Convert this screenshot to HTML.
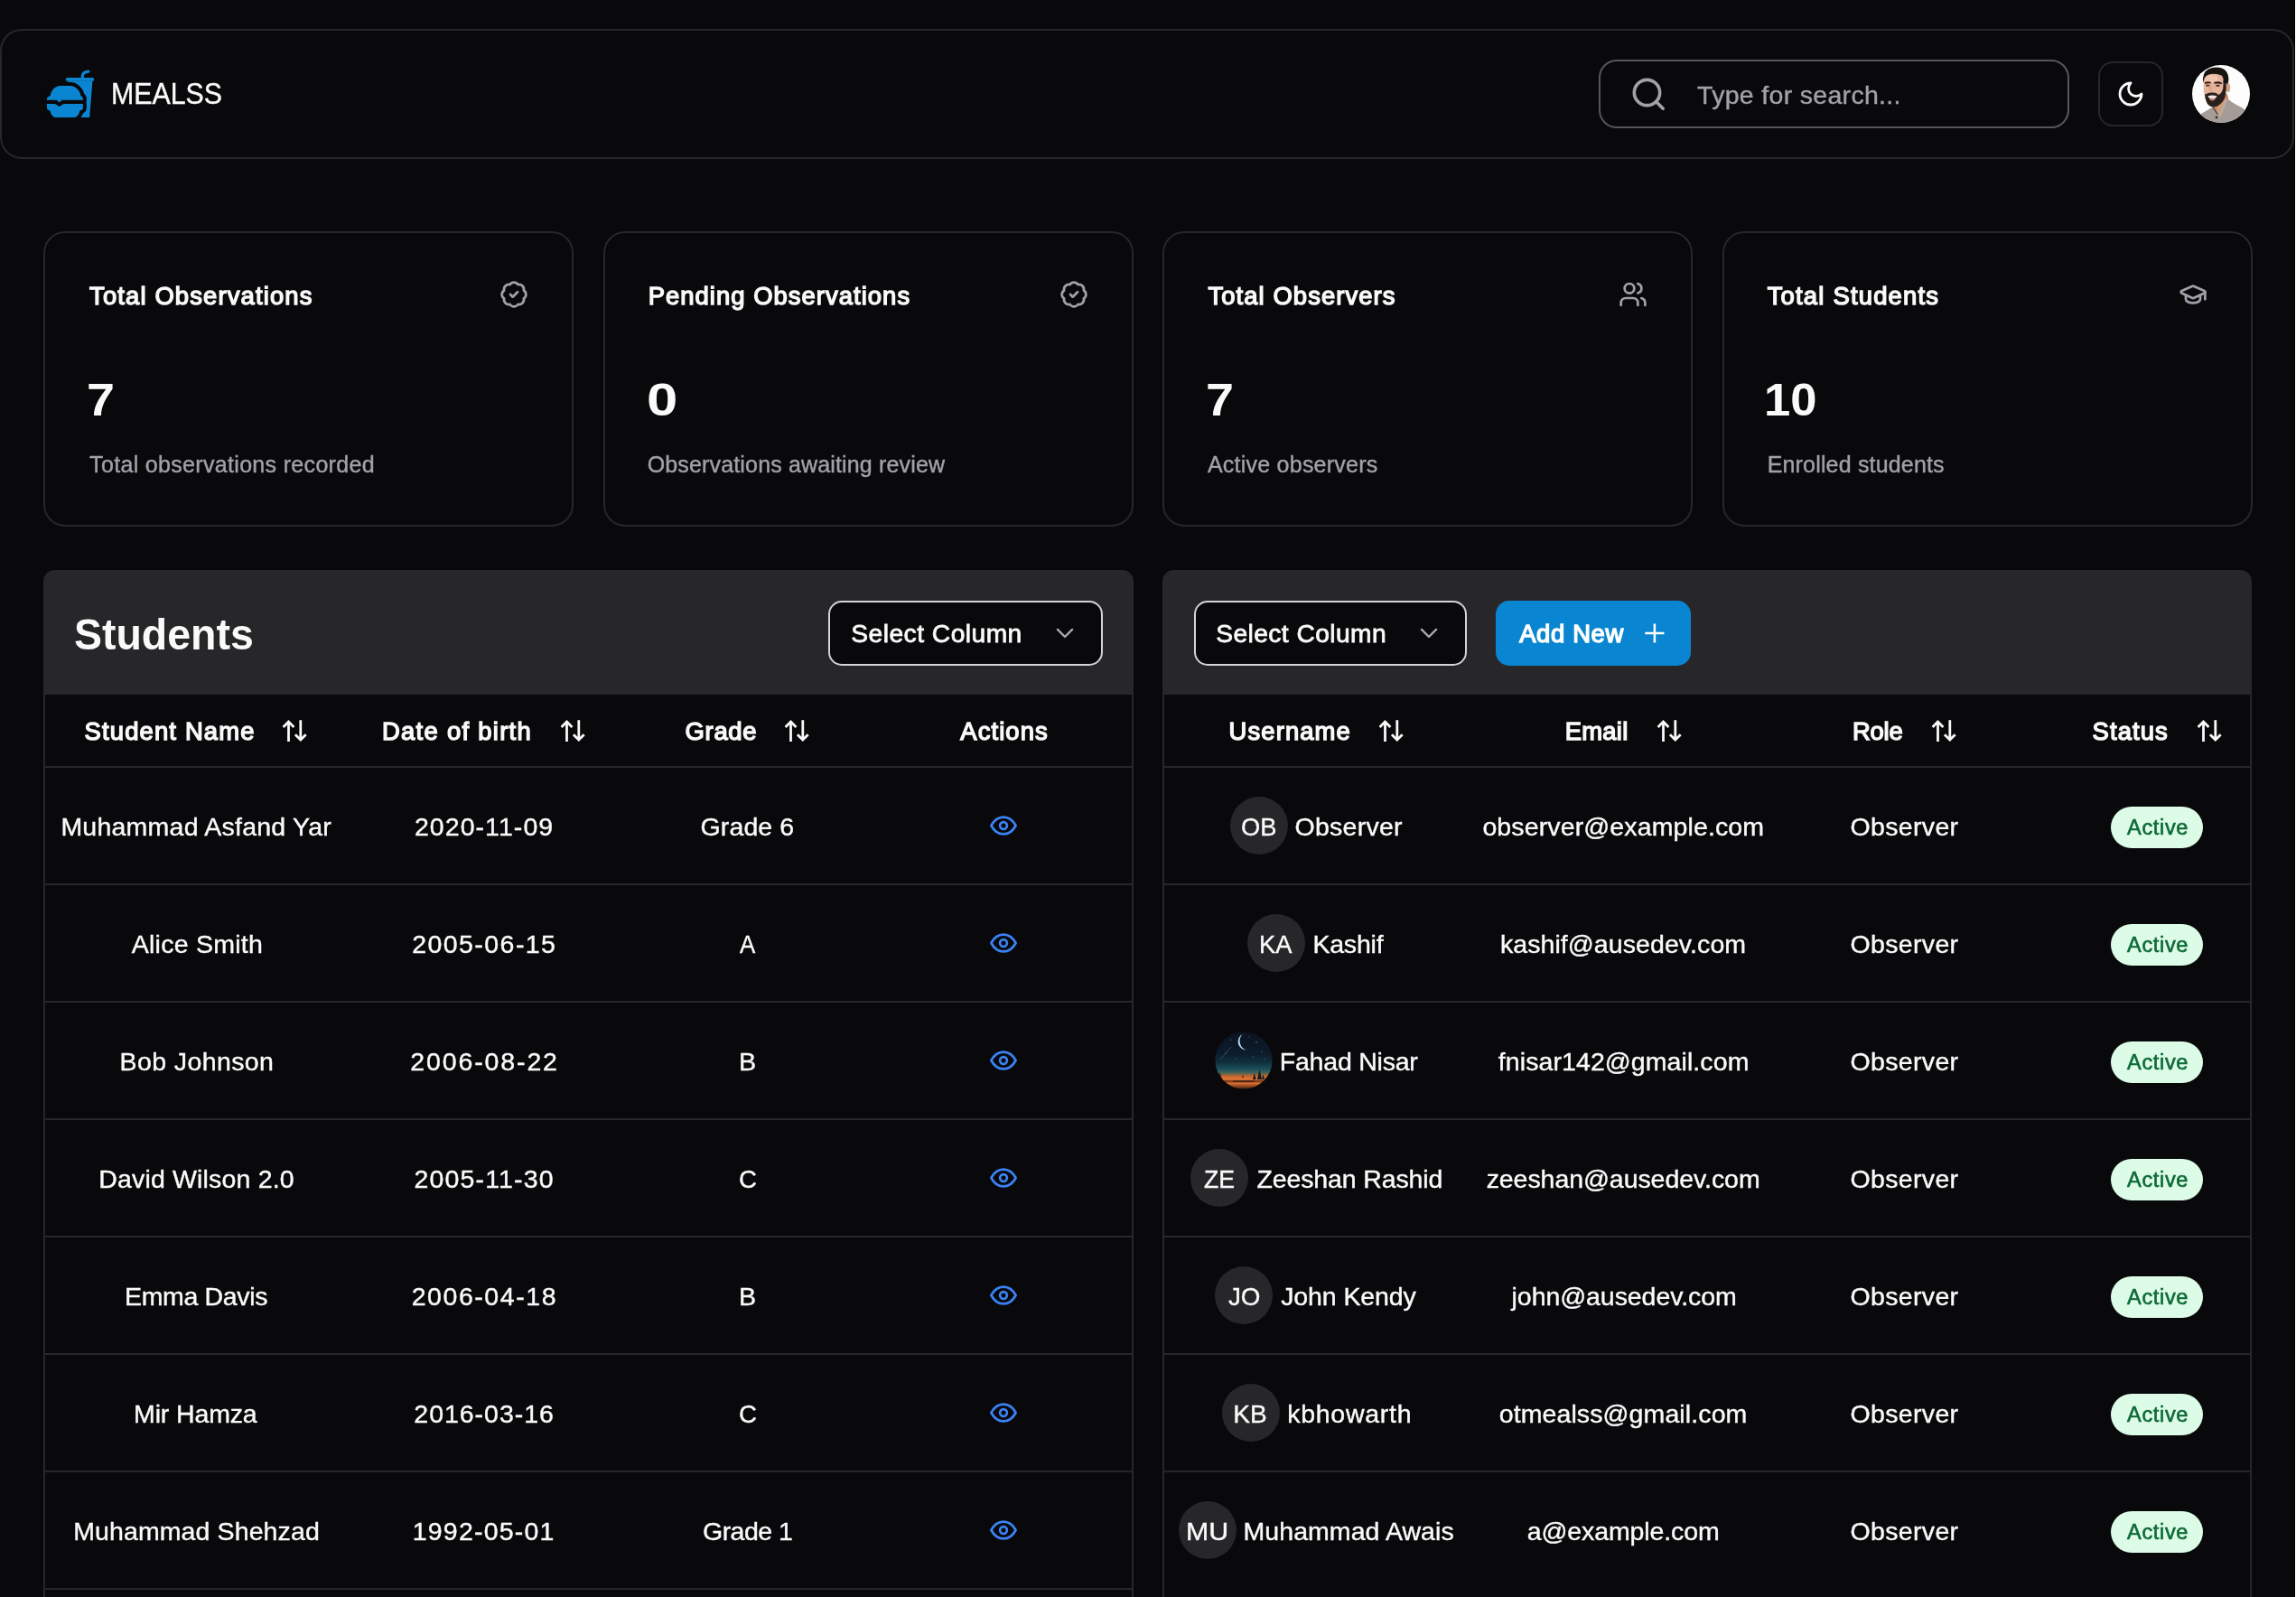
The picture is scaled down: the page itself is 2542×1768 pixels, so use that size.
<!DOCTYPE html><html lang="en"><head><meta charset="utf-8"><title>MEALSS Dashboard</title><style>
html,body{margin:0;padding:0}
html{width:2542px;height:1768px;overflow:hidden;background:#09090b}
body{width:2542px;height:1768px;overflow:hidden;background:#09090b;position:relative;font-family:'Liberation Sans', Arial, sans-serif;color:#fafafa}
.a{position:absolute;display:block}
.t{position:absolute;white-space:pre;margin:0;padding:0;-webkit-font-smoothing:antialiased}
.box{position:absolute;box-sizing:border-box}
.card{border:2px solid #27272a;border-radius:24px;background:#09090b}
.ph{background:#27272a;border-radius:12.5px 12.5px 0 0}
.tb{border-left:2px solid #27272a;border-right:2px solid #27272a}
.ln{position:absolute;height:2px;background:#27272a}
.sel{border:2px solid #d4d4d8;border-radius:15px;background:#09090b}
.av{position:absolute;width:64px;height:64px;border-radius:50%;background:#27272a}
.bd{position:absolute;width:102px;height:46px;border-radius:23px;background:#dcfce7}
</style></head><body>
<div class="box" style="left:0;top:32px;width:2540.3px;height:144px;border:2px solid #27272a;border-radius:24px"></div>
<div class="a" style="left:2540.4px;top:0;width:0.7px;height:1768px;background:#000"></div><div class="a" style="left:2541.1px;top:0;width:0.9px;height:1768px;background:#fff"></div>
<svg class="a" style="left:50px;top:76px" width="56" height="56" viewBox="0 0 56 56"><path d="M47.8,3.2 Q41.6,4 41.3,8 L41.2,11" fill="none" stroke="#0a85d1" stroke-width="3.3" stroke-linecap="round"/><rect x="22.8" y="10" width="31.3" height="3.8" rx="1.6" fill="#0a85d1"/><path d="M25.2,13.4 L52.4,13.4 L49.2,54 L28.6,54 Z" fill="#0a85d1"/><path d="M1.9,34.7 L1.9,33 Q2,31.5 5.7,30 C6.5,24 11,19 16.7,19 L28.1,19 C33.5,19 38.5,24 39.5,30 Q41.8,31.5 41.9,33 L41.9,34.7 L18.6,34.7 L15.7,37.6 L12.8,34.7 Z" fill="#09090b" stroke="#09090b" stroke-width="8" stroke-linejoin="round"/><path d="M1.9,39 L10.9,39 L15.7,41.9 L20.5,39 L41.9,39 L41.9,43 Q41.9,45.5 38.5,46.5 Q37.5,51 35.5,52.5 Q34,54 31.9,54 L11.9,54 Q9.5,54 8.3,52.5 Q6.3,51 5.3,46.5 Q1.9,45.5 1.9,43 Z" fill="#09090b" stroke="#09090b" stroke-width="8" stroke-linejoin="round"/><path d="M1.9,34.7 L1.9,33 Q2,31.5 5.7,30 C6.5,24 11,19 16.7,19 L28.1,19 C33.5,19 38.5,24 39.5,30 Q41.8,31.5 41.9,33 L41.9,34.7 L18.6,34.7 L15.7,37.6 L12.8,34.7 Z" fill="#0a85d1"/><path d="M1.9,39 L10.9,39 L15.7,41.9 L20.5,39 L41.9,39 L41.9,43 Q41.9,45.5 38.5,46.5 Q37.5,51 35.5,52.5 Q34,54 31.9,54 L11.9,54 Q9.5,54 8.3,52.5 Q6.3,51 5.3,46.5 Q1.9,45.5 1.9,43 Z" fill="#0a85d1"/></svg>
<div class="box" style="left:1770px;top:66px;width:521px;height:76px;border:2px solid #56565b;border-radius:20px"></div>
<svg class="a" style="left:1804.3px;top:82.6px" width="42.5" height="42.5" viewBox="0 0 24 24" fill="none" stroke="#a1a1aa" stroke-width="2.05" stroke-linecap="round" stroke-linejoin="round"><circle cx="11" cy="11" r="8"/><path d="m21 21-4.3-4.3"/></svg>
<div class="box" style="left:2323px;top:68px;width:72px;height:72px;border:2px solid #27272a;border-radius:16px"></div>
<svg class="a" style="left:2343px;top:88px" width="32" height="32" viewBox="0 0 24 24" fill="none" stroke="#fafafa" stroke-width="2.1" stroke-linecap="round" stroke-linejoin="round"><path d="M12 3a6 6 0 0 0 9 9 9 9 0 1 1-9-9Z"/></svg>
<svg class="a" style="left:2427px;top:72px" width="64" height="64" viewBox="0 0 64 64"><defs><clipPath id="cpme"><circle cx="32" cy="32" r="32"/></clipPath></defs><g clip-path="url(#cpme)"><rect width="64" height="64" fill="#fdfdfd"/><path d="M22,41 L38.5,31 Q40.8,36 40,41 L35,61 L25,57 Z" fill="#c08a68"/><path d="M27,46 L38.5,36 L37,46 L32,59 L29,56 Z" fill="#d19c7c"/><path d="M-2,66 L9,54.5 Q16,50.5 22.6,46.4 L28.5,55 L31,58 L33.5,52 L39.6,37.4 Q44,41.5 50,44.5 Q56,47.2 60,50.5 L66,66 Z" fill="#a59c97"/><path d="M22.6,46.4 L28.3,54.6" stroke="#4a403c" stroke-width="1.1" fill="none"/><path d="M39.6,37.4 L33.5,52 L31,58 L29.5,56.3 L37.2,39 Z" fill="#b8aea9"/><ellipse cx="39.7" cy="25.2" rx="2.5" ry="4.9" fill="#d7a081"/><path d="M12.6,14 Q13,9 20,8.6 L31,8.6 Q35.5,12 35.6,22 L35.6,33 Q34,42.5 27,45 Q20,46.8 16.6,42 Q13.4,36 12.8,28 Z" fill="#e6b39a"/><path d="M15.5,12.5 Q21,10.5 28,12 L28.5,19 L15,19 Z" fill="#f0c6b0"/><path d="M20.5,21 Q22.5,25 21.8,29 L19.2,29.4 Q18.3,25 19.2,21 Z" fill="#dca58e"/><path d="M34.4,17 L37.6,19 Q38.3,29 36.2,36 Q33,43.8 26.5,46 Q20,47.4 16.8,42.8 Q14.4,39 14.1,33 Q14.3,31.8 15.2,32.2 Q18,30.4 21.5,30.6 Q25.5,30.4 28.3,32 Q28.6,33.2 29.5,33 Q33,31 34.2,26 Q34.8,21 34.4,17 Z" fill="#2a201c"/><path d="M17.4,34.2 Q22,33 27.4,34.2 Q26.5,37.4 22.3,37.6 Q18.5,37.4 17.4,34.2 Z" fill="#efe4df"/><path d="M18.6,36.6 Q22.3,38 26.2,36.6 Q25,39.4 22.3,39.4 Q19.8,39.4 18.6,36.6 Z" fill="#c4897c"/><path d="M14,19.2 Q17,17.6 20.6,18.8 L20.6,20.5 Q17,19.8 14,21 Z" fill="#2a1c17"/><path d="M24.4,18.8 Q28.5,17.4 32.8,19.4 L32.8,21.2 Q28.5,19.8 24.4,20.8 Z" fill="#2a1c17"/><ellipse cx="17.2" cy="22.6" rx="2.1" ry="1.1" fill="#4a2e26"/><ellipse cx="28.4" cy="22.8" rx="2.4" ry="1.1" fill="#4a2e26"/><path d="M12.1,20 Q10.8,8 18,4.4 Q25,1 33,3.4 Q40,6.4 40.4,15 Q40.6,19.6 38.8,21.6 L37.4,20 L34.6,20 Q35.4,14.5 32.6,11.4 Q27,9 21,10 Q15.5,10.6 13.6,14.6 Z" fill="#17130f"/><circle cx="27" cy="58" r="1.4" fill="#3b3230"/></g></svg>
<div class="box card" style="left:48px;top:256px;width:587px;height:327px"></div>
<svg class="a" style="left:553px;top:310px" width="32" height="32" viewBox="0 0 24 24" fill="none" stroke="#a1a1aa" stroke-width="2.05" stroke-linecap="round" stroke-linejoin="round"><path d="M3.85 8.62a4 4 0 0 1 4.78-4.77 4 4 0 0 1 6.74 0 4 4 0 0 1 4.78 4.78 4 4 0 0 1 0 6.74 4 4 0 0 1-4.77 4.78 4 4 0 0 1-6.75 0 4 4 0 0 1-4.78-4.77 4 4 0 0 1 0-6.76Z"/><path d="m9 12 2 2 4-4"/></svg>
<div class="box card" style="left:667.5px;top:256px;width:587px;height:327px"></div>
<svg class="a" style="left:1172.5px;top:310px" width="32" height="32" viewBox="0 0 24 24" fill="none" stroke="#a1a1aa" stroke-width="2.05" stroke-linecap="round" stroke-linejoin="round"><path d="M3.85 8.62a4 4 0 0 1 4.78-4.77 4 4 0 0 1 6.74 0 4 4 0 0 1 4.78 4.78 4 4 0 0 1 0 6.74 4 4 0 0 1-4.77 4.78 4 4 0 0 1-6.75 0 4 4 0 0 1-4.78-4.77 4 4 0 0 1 0-6.76Z"/><path d="m9 12 2 2 4-4"/></svg>
<div class="box card" style="left:1287px;top:256px;width:587px;height:327px"></div>
<svg class="a" style="left:1792px;top:310px" width="32" height="32" viewBox="0 0 24 24" fill="none" stroke="#a1a1aa" stroke-width="2.05" stroke-linecap="round" stroke-linejoin="round"><path d="M16 21v-2a4 4 0 0 0-4-4H6a4 4 0 0 0-4 4v2"/><circle cx="9" cy="7" r="4"/><path d="M22 21v-2a4 4 0 0 0-3-3.87"/><path d="M16 3.13a4 4 0 0 1 0 7.75"/></svg>
<div class="box card" style="left:1906.5px;top:256px;width:587px;height:327px"></div>
<svg class="a" style="left:2411.5px;top:310px" width="32" height="32" viewBox="0 0 24 24" fill="none" stroke="#a1a1aa" stroke-width="2.05" stroke-linecap="round" stroke-linejoin="round"><path d="M21.42 10.922a1 1 0 0 0-.019-1.838L12.83 5.18a2 2 0 0 0-1.66 0L2.6 9.08a1 1 0 0 0 0 1.832l8.57 3.908a2 2 0 0 0 1.66 0z"/><path d="M22 10v6"/><path d="M6 12.5V16a6 3 0 0 0 12 0v-3.5"/></svg>
<div class="box ph" style="left:48px;top:630.7px;width:1206.8px;height:138.3px"></div>
<div class="box tb" style="left:48px;top:769px;width:1206.8px;height:999px"></div>
<div class="ln" style="left:50px;top:848px;width:1202.8px"></div>
<div class="ln" style="left:50px;top:978px;width:1202.8px"></div>
<div class="ln" style="left:50px;top:1108px;width:1202.8px"></div>
<div class="ln" style="left:50px;top:1238px;width:1202.8px"></div>
<div class="ln" style="left:50px;top:1368px;width:1202.8px"></div>
<div class="ln" style="left:50px;top:1498px;width:1202.8px"></div>
<div class="ln" style="left:50px;top:1628px;width:1202.8px"></div>
<div class="ln" style="left:50px;top:1758px;width:1202.8px"></div>
<div class="box ph" style="left:1287px;top:630.7px;width:1206px;height:138.3px"></div>
<div class="box tb" style="left:1287px;top:769px;width:1206px;height:999px"></div>
<div class="ln" style="left:1289px;top:848px;width:1202px"></div>
<div class="ln" style="left:1289px;top:978px;width:1202px"></div>
<div class="ln" style="left:1289px;top:1108px;width:1202px"></div>
<div class="ln" style="left:1289px;top:1238px;width:1202px"></div>
<div class="ln" style="left:1289px;top:1368px;width:1202px"></div>
<div class="ln" style="left:1289px;top:1498px;width:1202px"></div>
<div class="ln" style="left:1289px;top:1628px;width:1202px"></div>
<div class="box sel" style="left:917.3px;top:665px;width:304px;height:72px"></div>
<div class="box sel" style="left:1321.5px;top:665px;width:302.6px;height:72px"></div>
<svg class="a" style="left:1167px;top:689px" width="24" height="24" viewBox="0 0 24 24" fill="none" stroke="#a9a9b2" stroke-width="2.4" stroke-linecap="round" stroke-linejoin="round"><path d="M3.9,7.9 L12,16 L20.1,7.9"/></svg>
<svg class="a" style="left:1570.2px;top:689px" width="24" height="24" viewBox="0 0 24 24" fill="none" stroke="#a9a9b2" stroke-width="2.4" stroke-linecap="round" stroke-linejoin="round"><path d="M3.9,7.9 L12,16 L20.1,7.9"/></svg>
<div class="box" style="left:1656px;top:664.7px;width:216px;height:72.3px;border-radius:15px;background:#0a85d1"></div>
<svg class="a" style="left:1819px;top:688px" width="26" height="26" viewBox="0 0 26 26" stroke="#fff" stroke-width="2.5" fill="none"><path d="M12.9,2.4 V23.6 M2.3,13 H23.5"/></svg>
<svg class="a" style="left:310.2px;top:795px" width="32" height="28" viewBox="0 0 32 28" fill="none" stroke="#fafafa" stroke-width="2.8"><path d="M9.5,26 V4.5"/><path d="M3.6,9.9 L9.5,4 L15.4,9.9"/><path d="M22.8,2.2 V23.6"/><path d="M16.9,18.2 L22.8,24.1 L28.7,18.2"/></svg>
<svg class="a" style="left:617.6px;top:795px" width="32" height="28" viewBox="0 0 32 28" fill="none" stroke="#fafafa" stroke-width="2.8"><path d="M9.5,26 V4.5"/><path d="M3.6,9.9 L9.5,4 L15.4,9.9"/><path d="M22.8,2.2 V23.6"/><path d="M16.9,18.2 L22.8,24.1 L28.7,18.2"/></svg>
<svg class="a" style="left:866.4px;top:795px" width="32" height="28" viewBox="0 0 32 28" fill="none" stroke="#fafafa" stroke-width="2.8"><path d="M9.5,26 V4.5"/><path d="M3.6,9.9 L9.5,4 L15.4,9.9"/><path d="M22.8,2.2 V23.6"/><path d="M16.9,18.2 L22.8,24.1 L28.7,18.2"/></svg>
<svg class="a" style="left:1523.9px;top:795px" width="32" height="28" viewBox="0 0 32 28" fill="none" stroke="#fafafa" stroke-width="2.8"><path d="M9.5,26 V4.5"/><path d="M3.6,9.9 L9.5,4 L15.4,9.9"/><path d="M22.8,2.2 V23.6"/><path d="M16.9,18.2 L22.8,24.1 L28.7,18.2"/></svg>
<svg class="a" style="left:1831.6px;top:795px" width="32" height="28" viewBox="0 0 32 28" fill="none" stroke="#fafafa" stroke-width="2.8"><path d="M9.5,26 V4.5"/><path d="M3.6,9.9 L9.5,4 L15.4,9.9"/><path d="M22.8,2.2 V23.6"/><path d="M16.9,18.2 L22.8,24.1 L28.7,18.2"/></svg>
<svg class="a" style="left:2135.6px;top:795px" width="32" height="28" viewBox="0 0 32 28" fill="none" stroke="#fafafa" stroke-width="2.8"><path d="M9.5,26 V4.5"/><path d="M3.6,9.9 L9.5,4 L15.4,9.9"/><path d="M22.8,2.2 V23.6"/><path d="M16.9,18.2 L22.8,24.1 L28.7,18.2"/></svg>
<svg class="a" style="left:2429.8px;top:795px" width="32" height="28" viewBox="0 0 32 28" fill="none" stroke="#fafafa" stroke-width="2.8"><path d="M9.5,26 V4.5"/><path d="M3.6,9.9 L9.5,4 L15.4,9.9"/><path d="M22.8,2.2 V23.6"/><path d="M16.9,18.2 L22.8,24.1 L28.7,18.2"/></svg>
<svg class="a" style="left:1092.9px;top:900.1px" width="36" height="28" viewBox="0 0 36 28" fill="none" stroke="#3b82f6" stroke-width="2.7" stroke-linejoin="round"><path d="M4.4,14 C7.8,7.6 12.8,4.6 18,4.6 C23.2,4.6 28.2,7.6 31.6,14 C28.2,20.4 23.2,23.4 18,23.4 C12.8,23.4 7.8,20.4 4.4,14 Z"/><circle cx="18" cy="14" r="3.9"/></svg>
<div class="av" style="left:1362.1px;top:882.3px"></div>
<div class="bd" style="left:2337px;top:892.9px"></div>
<svg class="a" style="left:1092.9px;top:1030.1px" width="36" height="28" viewBox="0 0 36 28" fill="none" stroke="#3b82f6" stroke-width="2.7" stroke-linejoin="round"><path d="M4.4,14 C7.8,7.6 12.8,4.6 18,4.6 C23.2,4.6 28.2,7.6 31.6,14 C28.2,20.4 23.2,23.4 18,23.4 C12.8,23.4 7.8,20.4 4.4,14 Z"/><circle cx="18" cy="14" r="3.9"/></svg>
<div class="av" style="left:1381.3px;top:1012.3px"></div>
<div class="bd" style="left:2337px;top:1022.9px"></div>
<svg class="a" style="left:1092.9px;top:1160.1px" width="36" height="28" viewBox="0 0 36 28" fill="none" stroke="#3b82f6" stroke-width="2.7" stroke-linejoin="round"><path d="M4.4,14 C7.8,7.6 12.8,4.6 18,4.6 C23.2,4.6 28.2,7.6 31.6,14 C28.2,20.4 23.2,23.4 18,23.4 C12.8,23.4 7.8,20.4 4.4,14 Z"/><circle cx="18" cy="14" r="3.9"/></svg>
<svg class="a" style="left:1345.3px;top:1142.3px" width="64" height="64" viewBox="0 0 64 64"><defs><clipPath id="cpf"><circle cx="32" cy="32" r="31.6"/></clipPath><linearGradient id="gf" x1="0" y1="0" x2="0" y2="1"><stop offset="0" stop-color="#0b1320"/><stop offset=".38" stop-color="#0d1b2b"/><stop offset=".54" stop-color="#10303f"/><stop offset=".66" stop-color="#1c525c"/><stop offset=".72" stop-color="#4f6557"/><stop offset=".77" stop-color="#c4652e"/><stop offset=".83" stop-color="#e67a35"/><stop offset=".855" stop-color="#6b3018"/><stop offset=".895" stop-color="#d96f30"/><stop offset=".95" stop-color="#8a431f"/><stop offset="1" stop-color="#2a1a14"/></linearGradient></defs><g clip-path="url(#cpf)"><rect width="64" height="64" fill="url(#gf)"/><path d="M30.5,3 A9.3,9.3 0 0 0 35,20.5 A10.6,10.6 0 0 1 30.5,3 Z" fill="#b5daf0"/><path d="M6,31 L18,17" stroke="#35566c" stroke-width=".8"/><path d="M3,53 l2.5,-8 l2.5,8 z M47,53 l2.5,-11 l2.5,11 z M42,53 l1.8,-7 l1.8,7 z M52,53 l1.5,-6 l1.5,6 z" fill="#0d1c24"/><path d="M20,54.5 h24 v1.2 h-24 z M30,51 l1,-3 l1,3 z" fill="#3a1c10"/><g fill="#6f93ad"><circle cx="46" cy="12" r=".7"/><circle cx="52" cy="22" r=".6"/><circle cx="18" cy="9" r=".6"/><circle cx="12" cy="24" r=".6"/><circle cx="42" cy="28" r=".6"/><circle cx="24" cy="30" r=".5"/><circle cx="55" cy="30" r=".5"/><circle cx="38" cy="6" r=".5"/></g></g></svg>
<div class="bd" style="left:2337px;top:1152.9px"></div>
<svg class="a" style="left:1092.9px;top:1290.1px" width="36" height="28" viewBox="0 0 36 28" fill="none" stroke="#3b82f6" stroke-width="2.7" stroke-linejoin="round"><path d="M4.4,14 C7.8,7.6 12.8,4.6 18,4.6 C23.2,4.6 28.2,7.6 31.6,14 C28.2,20.4 23.2,23.4 18,23.4 C12.8,23.4 7.8,20.4 4.4,14 Z"/><circle cx="18" cy="14" r="3.9"/></svg>
<div class="av" style="left:1317.8px;top:1272.3px"></div>
<div class="bd" style="left:2337px;top:1282.9px"></div>
<svg class="a" style="left:1092.9px;top:1420.1px" width="36" height="28" viewBox="0 0 36 28" fill="none" stroke="#3b82f6" stroke-width="2.7" stroke-linejoin="round"><path d="M4.4,14 C7.8,7.6 12.8,4.6 18,4.6 C23.2,4.6 28.2,7.6 31.6,14 C28.2,20.4 23.2,23.4 18,23.4 C12.8,23.4 7.8,20.4 4.4,14 Z"/><circle cx="18" cy="14" r="3.9"/></svg>
<div class="av" style="left:1344.9px;top:1402.3px"></div>
<div class="bd" style="left:2337px;top:1412.9px"></div>
<svg class="a" style="left:1092.9px;top:1550.1px" width="36" height="28" viewBox="0 0 36 28" fill="none" stroke="#3b82f6" stroke-width="2.7" stroke-linejoin="round"><path d="M4.4,14 C7.8,7.6 12.8,4.6 18,4.6 C23.2,4.6 28.2,7.6 31.6,14 C28.2,20.4 23.2,23.4 18,23.4 C12.8,23.4 7.8,20.4 4.4,14 Z"/><circle cx="18" cy="14" r="3.9"/></svg>
<div class="av" style="left:1352.8px;top:1532.3px"></div>
<div class="bd" style="left:2337px;top:1542.9px"></div>
<svg class="a" style="left:1092.9px;top:1680.1px" width="36" height="28" viewBox="0 0 36 28" fill="none" stroke="#3b82f6" stroke-width="2.7" stroke-linejoin="round"><path d="M4.4,14 C7.8,7.6 12.8,4.6 18,4.6 C23.2,4.6 28.2,7.6 31.6,14 C28.2,20.4 23.2,23.4 18,23.4 C12.8,23.4 7.8,20.4 4.4,14 Z"/><circle cx="18" cy="14" r="3.9"/></svg>
<div class="av" style="left:1304.9px;top:1662.3px"></div>
<div class="bd" style="left:2337px;top:1672.9px"></div>
<div class="a" style="left:0;top:0;width:2542px;height:1768px;will-change:transform">
<div class="t" style="left:123.16px;top:77.48px;height:53px;line-height:53px;transform:scaleX(0.918);transform-origin:0 50%;font-size:33px;font-weight:400;color:#fafafa;-webkit-text-stroke:0.4px #fafafa;">MEALSS</div>
<div class="t" style="left:1879.00px;top:82.33px;height:46px;line-height:46px;letter-spacing:0.312px;font-size:28.5px;font-weight:400;color:#a1a1aa;-webkit-text-stroke:0.4px #a1a1aa;">Type for search...</div>
<div class="t" style="left:99.10px;top:305.92px;height:44px;line-height:44px;letter-spacing:1.141px;font-size:27.4px;font-weight:400;color:#fafafa;-webkit-text-stroke:1.4px #fafafa;">Total Observations</div>
<div class="t" style="left:96.09px;top:401.98px;height:81px;line-height:81px;transform:scaleX(1.104);transform-origin:0 50%;font-size:50.5px;font-weight:700;color:#fafafa;">7</div>
<div class="t" style="left:99.10px;top:494.19px;height:40px;line-height:40px;letter-spacing:0.323px;font-size:25px;font-weight:400;color:#a1a1aa;-webkit-text-stroke:0.4px #a1a1aa;">Total observations recorded</div>
<div class="t" style="left:717.70px;top:305.92px;height:44px;line-height:44px;letter-spacing:1.047px;font-size:27.4px;font-weight:400;color:#fafafa;-webkit-text-stroke:1.4px #fafafa;">Pending Observations</div>
<div class="t" style="left:715.86px;top:401.98px;height:81px;line-height:81px;transform:scaleX(1.221);transform-origin:0 50%;font-size:50.5px;font-weight:700;color:#fafafa;">0</div>
<div class="t" style="left:716.70px;top:494.19px;height:40px;line-height:40px;letter-spacing:0.156px;font-size:25px;font-weight:400;color:#a1a1aa;-webkit-text-stroke:0.4px #a1a1aa;">Observations awaiting review</div>
<div class="t" style="left:1337.50px;top:305.92px;height:44px;line-height:44px;letter-spacing:1.079px;font-size:27.4px;font-weight:400;color:#fafafa;-webkit-text-stroke:1.4px #fafafa;">Total Observers</div>
<div class="t" style="left:1334.69px;top:401.98px;height:81px;line-height:81px;transform:scaleX(1.104);transform-origin:0 50%;font-size:50.5px;font-weight:700;color:#fafafa;">7</div>
<div class="t" style="left:1336.90px;top:494.19px;height:40px;line-height:40px;letter-spacing:0.240px;font-size:25px;font-weight:400;color:#a1a1aa;-webkit-text-stroke:0.4px #a1a1aa;">Active observers</div>
<div class="t" style="left:1956.70px;top:305.92px;height:44px;line-height:44px;letter-spacing:1.208px;font-size:27.4px;font-weight:400;color:#fafafa;-webkit-text-stroke:1.4px #fafafa;">Total Students</div>
<div class="t" style="left:1953.08px;top:401.98px;height:81px;line-height:81px;transform:scaleX(1.041);transform-origin:0 50%;font-size:50.5px;font-weight:700;color:#fafafa;">10</div>
<div class="t" style="left:1956.70px;top:494.19px;height:40px;line-height:40px;letter-spacing:0.169px;font-size:25px;font-weight:400;color:#a1a1aa;-webkit-text-stroke:0.4px #a1a1aa;">Enrolled students</div>
<div class="t" style="left:82.03px;top:664.35px;height:77px;line-height:77px;transform:scaleX(0.968);transform-origin:0 50%;font-size:48px;font-weight:700;color:#fafafa;">Students</div>
<div class="t" style="left:942.30px;top:679.42px;height:45px;line-height:45px;letter-spacing:0.475px;font-size:28.2px;font-weight:400;color:#fafafa;-webkit-text-stroke:0.8px #fafafa;">Select Column</div>
<div class="t" style="left:1346.20px;top:679.42px;height:45px;line-height:45px;letter-spacing:0.433px;font-size:28.2px;font-weight:400;color:#fafafa;-webkit-text-stroke:0.8px #fafafa;">Select Column</div>
<div class="t" style="left:1682.20px;top:680.12px;height:44px;line-height:44px;letter-spacing:0.650px;font-size:27.4px;font-weight:400;color:#ffffff;-webkit-text-stroke:1.4px #ffffff;">Add New</div>
<div class="t" style="left:93.50px;top:788.22px;height:44px;line-height:44px;letter-spacing:1.173px;font-size:27.4px;font-weight:400;color:#fafafa;-webkit-text-stroke:1.4px #fafafa;">Student Name</div>
<div class="t" style="left:423.00px;top:788.22px;height:44px;line-height:44px;letter-spacing:1.292px;font-size:27.4px;font-weight:400;color:#fafafa;-webkit-text-stroke:1.4px #fafafa;">Date of birth</div>
<div class="t" style="left:758.50px;top:788.22px;height:44px;line-height:44px;letter-spacing:0.725px;font-size:27.4px;font-weight:400;color:#fafafa;-webkit-text-stroke:1.4px #fafafa;">Grade</div>
<div class="t" style="left:1063.30px;top:788.22px;height:44px;line-height:44px;letter-spacing:1.100px;font-size:27.4px;font-weight:400;color:#fafafa;-webkit-text-stroke:1.4px #fafafa;">Actions</div>
<div class="t" style="left:1360.60px;top:788.22px;height:44px;line-height:44px;letter-spacing:1.114px;font-size:27.4px;font-weight:400;color:#fafafa;-webkit-text-stroke:1.4px #fafafa;">Username</div>
<div class="t" style="left:1732.70px;top:788.22px;height:44px;line-height:44px;letter-spacing:0.275px;font-size:27.4px;font-weight:400;color:#fafafa;-webkit-text-stroke:1.4px #fafafa;">Email</div>
<div class="t" style="left:2051.00px;top:788.22px;height:44px;line-height:44px;letter-spacing:-0.200px;font-size:27.4px;font-weight:400;color:#fafafa;-webkit-text-stroke:1.4px #fafafa;">Role</div>
<div class="t" style="left:2316.60px;top:788.22px;height:44px;line-height:44px;letter-spacing:1.080px;font-size:27.4px;font-weight:400;color:#fafafa;-webkit-text-stroke:1.4px #fafafa;">Status</div>
<div class="t" style="left:67.40px;top:891.93px;height:46px;line-height:46px;letter-spacing:0.233px;font-size:28.5px;font-weight:400;color:#fafafa;-webkit-text-stroke:0.4px #fafafa;">Muhammad Asfand Yar</div>
<div class="t" style="left:458.90px;top:891.93px;height:46px;line-height:46px;letter-spacing:1.067px;font-size:28.5px;font-weight:400;color:#fafafa;-webkit-text-stroke:0.4px #fafafa;">2020-11-09</div>
<div class="t" style="left:775.60px;top:891.93px;height:46px;line-height:46px;letter-spacing:0.100px;font-size:28.5px;font-weight:400;color:#fafafa;-webkit-text-stroke:0.4px #fafafa;">Grade 6</div>
<div class="t" style="left:1433.60px;top:891.93px;height:46px;line-height:46px;letter-spacing:0.243px;font-size:28.5px;font-weight:400;color:#fafafa;-webkit-text-stroke:0.4px #fafafa;">Observer</div>
<div class="t" style="left:1374.13px;top:892.72px;height:45px;line-height:45px;transform:scaleX(0.974);transform-origin:0 50%;font-size:28px;font-weight:400;color:#fafafa;-webkit-text-stroke:0.4px #fafafa;">OB</div>
<div class="t" style="left:1641.40px;top:891.93px;height:46px;line-height:46px;letter-spacing:0.126px;font-size:28.5px;font-weight:400;color:#fafafa;-webkit-text-stroke:0.4px #fafafa;">observer@example.com</div>
<div class="t" style="left:2048.60px;top:891.93px;height:46px;line-height:46px;letter-spacing:0.329px;font-size:28.5px;font-weight:400;color:#fafafa;-webkit-text-stroke:0.4px #fafafa;">Observer</div>
<div class="t" style="left:2355.10px;top:897.17px;height:38px;line-height:38px;letter-spacing:0.660px;font-size:23.5px;font-weight:400;color:#0f6b38;-webkit-text-stroke:0.65px #0f6b38;">Active</div>
<div class="t" style="left:145.75px;top:1021.93px;height:46px;line-height:46px;letter-spacing:0.250px;font-size:28.5px;font-weight:400;color:#fafafa;-webkit-text-stroke:0.4px #fafafa;">Alice Smith</div>
<div class="t" style="left:456.20px;top:1021.93px;height:46px;line-height:46px;letter-spacing:1.444px;font-size:28.5px;font-weight:400;color:#fafafa;-webkit-text-stroke:0.4px #fafafa;">2005-06-15</div>
<div class="t" style="left:819.30px;top:1021.93px;height:46px;line-height:46px;transform:scaleX(0.905);transform-origin:0 50%;font-size:28.5px;font-weight:400;color:#fafafa;-webkit-text-stroke:0.4px #fafafa;">A</div>
<div class="t" style="left:1453.40px;top:1021.93px;height:46px;line-height:46px;letter-spacing:-0.200px;font-size:28.5px;font-weight:400;color:#fafafa;-webkit-text-stroke:0.4px #fafafa;">Kashif</div>
<div class="t" style="left:1393.86px;top:1022.72px;height:45px;line-height:45px;transform:scaleX(0.972);transform-origin:0 50%;font-size:28px;font-weight:400;color:#fafafa;-webkit-text-stroke:0.4px #fafafa;">KA</div>
<div class="t" style="left:1660.90px;top:1021.93px;height:46px;line-height:46px;letter-spacing:0.082px;font-size:28.5px;font-weight:400;color:#fafafa;-webkit-text-stroke:0.4px #fafafa;">kashif@ausedev.com</div>
<div class="t" style="left:2048.60px;top:1021.93px;height:46px;line-height:46px;letter-spacing:0.329px;font-size:28.5px;font-weight:400;color:#fafafa;-webkit-text-stroke:0.4px #fafafa;">Observer</div>
<div class="t" style="left:2355.10px;top:1027.17px;height:38px;line-height:38px;letter-spacing:0.660px;font-size:23.5px;font-weight:400;color:#0f6b38;-webkit-text-stroke:0.65px #0f6b38;">Active</div>
<div class="t" style="left:132.50px;top:1151.93px;height:46px;line-height:46px;letter-spacing:0.400px;font-size:28.5px;font-weight:400;color:#fafafa;-webkit-text-stroke:0.4px #fafafa;">Bob Johnson</div>
<div class="t" style="left:454.20px;top:1151.93px;height:46px;line-height:46px;letter-spacing:1.889px;font-size:28.5px;font-weight:400;color:#fafafa;-webkit-text-stroke:0.4px #fafafa;">2006-08-22</div>
<div class="t" style="left:817.84px;top:1151.93px;height:46px;line-height:46px;transform:scaleX(1.006);transform-origin:0 50%;font-size:28.5px;font-weight:400;color:#fafafa;-webkit-text-stroke:0.4px #fafafa;">B</div>
<div class="t" style="left:1416.80px;top:1151.93px;height:46px;line-height:46px;letter-spacing:-0.220px;font-size:28.5px;font-weight:400;color:#fafafa;-webkit-text-stroke:0.4px #fafafa;">Fahad Nisar</div>
<div class="t" style="left:1658.85px;top:1151.93px;height:46px;line-height:46px;letter-spacing:0.083px;font-size:28.5px;font-weight:400;color:#fafafa;-webkit-text-stroke:0.4px #fafafa;">fnisar142@gmail.com</div>
<div class="t" style="left:2048.60px;top:1151.93px;height:46px;line-height:46px;letter-spacing:0.329px;font-size:28.5px;font-weight:400;color:#fafafa;-webkit-text-stroke:0.4px #fafafa;">Observer</div>
<div class="t" style="left:2355.10px;top:1157.17px;height:38px;line-height:38px;letter-spacing:0.660px;font-size:23.5px;font-weight:400;color:#0f6b38;-webkit-text-stroke:0.65px #0f6b38;">Active</div>
<div class="t" style="left:109.20px;top:1281.93px;height:46px;line-height:46px;letter-spacing:0.173px;font-size:28.5px;font-weight:400;color:#fafafa;-webkit-text-stroke:0.4px #fafafa;">David Wilson 2.0</div>
<div class="t" style="left:458.50px;top:1281.93px;height:46px;line-height:46px;letter-spacing:1.156px;font-size:28.5px;font-weight:400;color:#fafafa;-webkit-text-stroke:0.4px #fafafa;">2005-11-30</div>
<div class="t" style="left:817.73px;top:1281.93px;height:46px;line-height:46px;transform:scaleX(0.968);transform-origin:0 50%;font-size:28.5px;font-weight:400;color:#fafafa;-webkit-text-stroke:0.4px #fafafa;">C</div>
<div class="t" style="left:1391.40px;top:1281.93px;height:46px;line-height:46px;letter-spacing:-0.123px;font-size:28.5px;font-weight:400;color:#fafafa;-webkit-text-stroke:0.4px #fafafa;">Zeeshan Rashid</div>
<div class="t" style="left:1333.15px;top:1282.72px;height:45px;line-height:45px;transform:scaleX(0.951);transform-origin:0 50%;font-size:28px;font-weight:400;color:#fafafa;-webkit-text-stroke:0.4px #fafafa;">ZE</div>
<div class="t" style="left:1645.65px;top:1281.93px;height:46px;line-height:46px;letter-spacing:-0.061px;font-size:28.5px;font-weight:400;color:#fafafa;-webkit-text-stroke:0.4px #fafafa;">zeeshan@ausedev.com</div>
<div class="t" style="left:2048.60px;top:1281.93px;height:46px;line-height:46px;letter-spacing:0.329px;font-size:28.5px;font-weight:400;color:#fafafa;-webkit-text-stroke:0.4px #fafafa;">Observer</div>
<div class="t" style="left:2355.10px;top:1287.17px;height:38px;line-height:38px;letter-spacing:0.660px;font-size:23.5px;font-weight:400;color:#0f6b38;-webkit-text-stroke:0.65px #0f6b38;">Active</div>
<div class="t" style="left:138.00px;top:1411.93px;height:46px;line-height:46px;letter-spacing:-0.333px;font-size:28.5px;font-weight:400;color:#fafafa;-webkit-text-stroke:0.4px #fafafa;">Emma Davis</div>
<div class="t" style="left:455.70px;top:1411.93px;height:46px;line-height:46px;letter-spacing:1.556px;font-size:28.5px;font-weight:400;color:#fafafa;-webkit-text-stroke:0.4px #fafafa;">2006-04-18</div>
<div class="t" style="left:817.84px;top:1411.93px;height:46px;line-height:46px;transform:scaleX(1.006);transform-origin:0 50%;font-size:28.5px;font-weight:400;color:#fafafa;-webkit-text-stroke:0.4px #fafafa;">B</div>
<div class="t" style="left:1418.20px;top:1411.93px;height:46px;line-height:46px;letter-spacing:-0.100px;font-size:28.5px;font-weight:400;color:#fafafa;-webkit-text-stroke:0.4px #fafafa;">John Kendy</div>
<div class="t" style="left:1359.55px;top:1412.72px;height:45px;line-height:45px;transform:scaleX(0.991);transform-origin:0 50%;font-size:28px;font-weight:400;color:#fafafa;-webkit-text-stroke:0.4px #fafafa;">JO</div>
<div class="t" style="left:1673.60px;top:1411.93px;height:46px;line-height:46px;letter-spacing:-0.067px;font-size:28.5px;font-weight:400;color:#fafafa;-webkit-text-stroke:0.4px #fafafa;">john@ausedev.com</div>
<div class="t" style="left:2048.60px;top:1411.93px;height:46px;line-height:46px;letter-spacing:0.329px;font-size:28.5px;font-weight:400;color:#fafafa;-webkit-text-stroke:0.4px #fafafa;">Observer</div>
<div class="t" style="left:2355.10px;top:1417.17px;height:38px;line-height:38px;letter-spacing:0.660px;font-size:23.5px;font-weight:400;color:#0f6b38;-webkit-text-stroke:0.65px #0f6b38;">Active</div>
<div class="t" style="left:148.05px;top:1541.93px;height:46px;line-height:46px;letter-spacing:-0.138px;font-size:28.5px;font-weight:400;color:#fafafa;-webkit-text-stroke:0.4px #fafafa;">Mir Hamza</div>
<div class="t" style="left:458.35px;top:1541.93px;height:46px;line-height:46px;letter-spacing:0.967px;font-size:28.5px;font-weight:400;color:#fafafa;-webkit-text-stroke:0.4px #fafafa;">2016-03-16</div>
<div class="t" style="left:817.73px;top:1541.93px;height:46px;line-height:46px;transform:scaleX(0.968);transform-origin:0 50%;font-size:28.5px;font-weight:400;color:#fafafa;-webkit-text-stroke:0.4px #fafafa;">C</div>
<div class="t" style="left:1425.20px;top:1541.93px;height:46px;line-height:46px;letter-spacing:0.725px;font-size:28.5px;font-weight:400;color:#fafafa;-webkit-text-stroke:0.4px #fafafa;">kbhowarth</div>
<div class="t" style="left:1365.30px;top:1542.72px;height:45px;line-height:45px;transform:scaleX(1.000);transform-origin:0 50%;font-size:28px;font-weight:400;color:#fafafa;-webkit-text-stroke:0.4px #fafafa;">KB</div>
<div class="t" style="left:1659.70px;top:1541.93px;height:46px;line-height:46px;letter-spacing:0.106px;font-size:28.5px;font-weight:400;color:#fafafa;-webkit-text-stroke:0.4px #fafafa;">otmealss@gmail.com</div>
<div class="t" style="left:2048.60px;top:1541.93px;height:46px;line-height:46px;letter-spacing:0.329px;font-size:28.5px;font-weight:400;color:#fafafa;-webkit-text-stroke:0.4px #fafafa;">Observer</div>
<div class="t" style="left:2355.10px;top:1547.17px;height:38px;line-height:38px;letter-spacing:0.660px;font-size:23.5px;font-weight:400;color:#0f6b38;-webkit-text-stroke:0.65px #0f6b38;">Active</div>
<div class="t" style="left:81.15px;top:1671.93px;height:46px;line-height:46px;letter-spacing:0.113px;font-size:28.5px;font-weight:400;color:#fafafa;-webkit-text-stroke:0.4px #fafafa;">Muhammad Shehzad</div>
<div class="t" style="left:456.75px;top:1671.93px;height:46px;line-height:46px;letter-spacing:1.211px;font-size:28.5px;font-weight:400;color:#fafafa;-webkit-text-stroke:0.4px #fafafa;">1992-05-01</div>
<div class="t" style="left:778.05px;top:1671.93px;height:46px;line-height:46px;letter-spacing:-0.550px;font-size:28.5px;font-weight:400;color:#fafafa;-webkit-text-stroke:0.4px #fafafa;">Grade 1</div>
<div class="t" style="left:1376.50px;top:1671.93px;height:46px;line-height:46px;letter-spacing:0.062px;font-size:28.5px;font-weight:400;color:#fafafa;-webkit-text-stroke:0.4px #fafafa;">Muhammad Awais</div>
<div class="t" style="left:1313.08px;top:1672.72px;height:45px;line-height:45px;transform:scaleX(1.083);transform-origin:0 50%;font-size:28px;font-weight:400;color:#fafafa;-webkit-text-stroke:0.4px #fafafa;">MU</div>
<div class="t" style="left:1690.80px;top:1671.93px;height:46px;line-height:46px;letter-spacing:-0.117px;font-size:28.5px;font-weight:400;color:#fafafa;-webkit-text-stroke:0.4px #fafafa;">a@example.com</div>
<div class="t" style="left:2048.60px;top:1671.93px;height:46px;line-height:46px;letter-spacing:0.329px;font-size:28.5px;font-weight:400;color:#fafafa;-webkit-text-stroke:0.4px #fafafa;">Observer</div>
<div class="t" style="left:2355.10px;top:1677.17px;height:38px;line-height:38px;letter-spacing:0.660px;font-size:23.5px;font-weight:400;color:#0f6b38;-webkit-text-stroke:0.65px #0f6b38;">Active</div>
</div>
</body></html>
